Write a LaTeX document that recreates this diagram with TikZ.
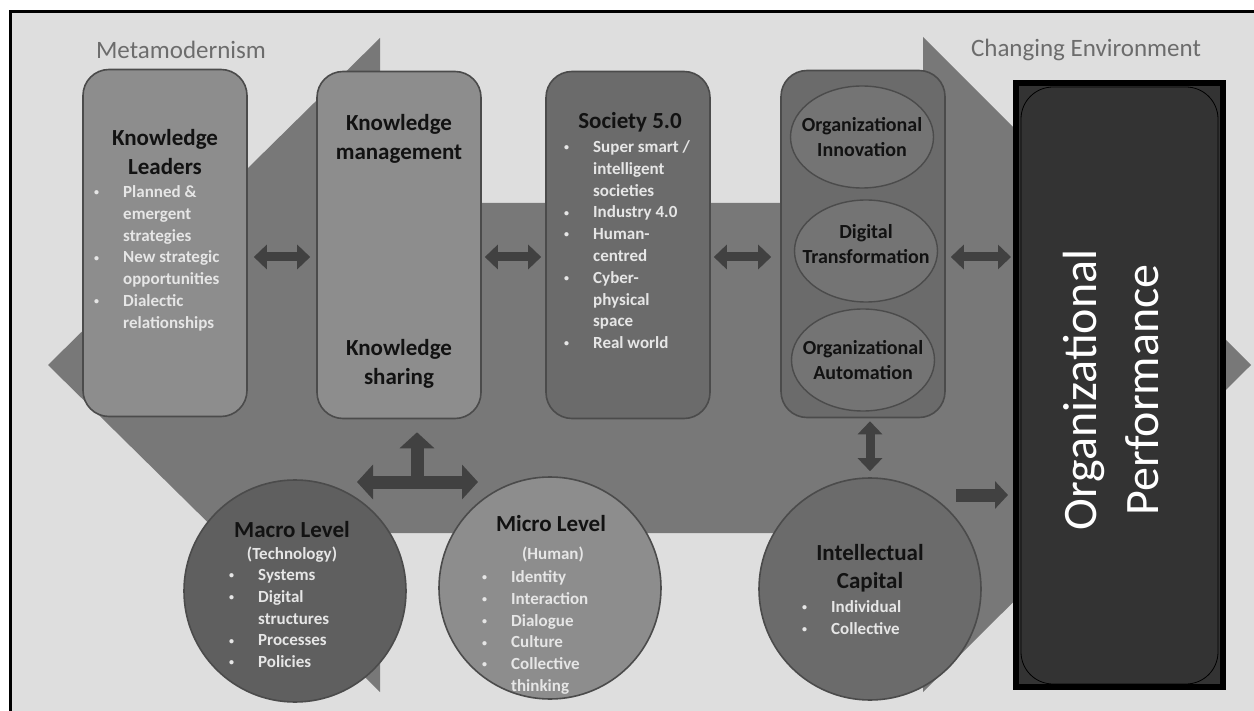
\documentclass[tikz,border=0pt]{standalone}
\usepackage{fontspec}
\setmainfont{Carlito}
\usetikzlibrary{arrows.meta,shapes.geometric}

\definecolor{paper}{HTML}{DEDEDE}
\definecolor{band}{HTML}{787878}
\definecolor{lightfill}{HTML}{8D8D8D}
\definecolor{darkfill}{HTML}{6B6B6B}
\definecolor{ovalfill}{HTML}{747474}
\definecolor{macrofill}{HTML}{5F5F5F}
\definecolor{perffill}{HTML}{333333}
\definecolor{rim}{HTML}{4B4B4B}
\definecolor{linkgray}{HTML}{414141}
\definecolor{itemgray}{HTML}{E6E6E6}
\definecolor{capgray}{HTML}{6C6C6C}

% bullet rows: \itm starts an item, \more continues it on the next line
\newcommand{\itemdot}{{\fontsize{10}{10}\selectfont\raisebox{1.8pt}{\textbullet}}}
\newcommand{\itm}[1]{\itemdot & #1\\}
\newcommand{\more}[1]{ & #1\\}
\newcommand{\itemlist}[1]{\begin{tabular}{@{}p{29pt}@{}l@{}}#1\end{tabular}}

\tikzset{
  pointer/.tip={Triangle[length=13pt,width=24pt]},
  fatpointer/.tip={Triangle[length=16pt,width=34pt]},
  panel/.style={draw=rim, line width=1.6pt, rounded corners=26pt,
    minimum width=164pt, minimum height=347pt},
  oval/.style={ellipse, draw=rim, fill=ovalfill, line width=1.4pt,
    minimum width=143pt, minimum height=102pt},
  level/.style={circle, draw=rim, line width=1.6pt, minimum size=222pt},
  heading/.style={font=\fontsize{23}{28.5}\selectfont\bfseries, text=black!93, align=center},
  ovaltext/.style={font=\fontsize{20}{25}\selectfont\bfseries, text=black!93, align=center},
  items/.style={font=\fontsize{17}{21.8}\selectfont\bfseries, text=itemgray,
    anchor=north west, inner sep=0pt},
  caption/.style={font=\fontsize{25}{30}\selectfont, text=capgray},
  link/.style={draw=linkgray, line width=9pt, pointer-pointer},
  fatlink/.style={draw=linkgray, line width=13pt, fatpointer-fatpointer},
}

\begin{document}
\begin{tikzpicture}[x=1pt,y=-1pt]
  \useasboundingbox (0,0) rectangle (1254,711);
  \fill[white] (0,0) rectangle (1254,711);
  \fill[paper] (10,12) rectangle (1254,711);
  \draw[line width=3pt] (10,711) -- (10,12) -- (1254,12); % outer frame

  % wide double arrow behind everything
  \fill[band] (48,365) -- (380,38) -- (380,203) -- (923,203) -- (923,37)
     -- (1251,365) -- (923,692) -- (923,533) -- (380,533) -- (380,692) -- cycle;

  \node[caption] (meta) at (181,50) {Metamodernism};
  \node[caption] (env) at (1086,50) {Changing Environment};

  % upper row of panels
  \node[panel, fill=lightfill] (kl) at (165,243) {};
  \node[panel, fill=lightfill] (km) at (399,245) {};
  \node[panel, fill=darkfill] (soc) at (628,245) {};
  \node[panel, fill=darkfill] (dig) at (863,244) {};

  \node[heading] (kltitle) at (165,152) {Knowledge\\Leaders};
  \node[items] (klitems) at (94,182) {\itemlist{%
    \itm{Planned \&}\more{emergent}\more{strategies}%
    \itm{New strategic}\more{opportunities}%
    \itm{Dialectic}\more{relationships}}};

  \node[heading] (kmtop) at (399,139) {Knowledge\\management};
  \node[heading] (kmbot) at (399,364) {Knowledge\\sharing};

  \node[heading] (soctitle) at (630,122) {Society 5.0};
  \node[items] (socitems) at (564,137) {\itemlist{%
    \itm{Super smart /}\more{intelligent}\more{societies}%
    \itm{Industry 4.0}\itm{Human-}\more{centred}%
    \itm{Cyber-}\more{physical}\more{space}\itm{Real world}}};

  \node[oval] (inno) at (862,137) {};
  \node[oval] (trans) at (866,251) {};
  \node[oval] (auto) at (863,360) {};
  \node[ovaltext] at (inno) {Organizational\\Innovation};
  \node[ovaltext] at (866,244) {Digital\\Transformation};
  \node[ovaltext] at (auto) {Organizational\\Automation};

  % performance block
  \node[draw=black, line width=6pt, fill=perffill, minimum width=207pt,
    minimum height=604pt] (perf) at (1119.5,385) {};
  \draw[black, line width=0.8pt, rounded corners=32pt] (1021,87) rectangle (1218,684);
  \node[rotate=90, text=white, font=\fontsize{48}{62}\selectfont, align=center]
    (perftext) at (1111,390) {Organizational\\Performance};

  % lower circles
  \node[level, fill=macrofill] (macro) at (295,591) {};
  \node[level, fill=lightfill] (micro) at (550,588) {};
  \node[level, fill=darkfill] (ic) at (870,589) {};

  \node[heading] (macrotitle) at (292,530) {Macro Level};
  \node[items, anchor=center] at (292,555) {(Technology)};
  \node[items] (macroitems) at (229,565) {\itemlist{%
    \itm{Systems}\itm{Digital}\more{structures}\itm{Processes}\itm{Policies}}};

  \node[heading] (microtitle) at (551,524) {Micro Level};
  \node[items, anchor=center] at (553,554) {(Human)};
  \node[items] (microitems) at (482,567) {\itemlist{%
    \itm{Identity}\itm{Interaction}\itm{Dialogue}\itm{Culture}%
    \itm{Collective}\more{thinking}}};

  \node[heading] (ictitle) at (870,568) {Intellectual\\Capital};
  \node[items] (icitems) at (802,597) {\itemlist{\itm{Individual}\itm{Collective}}};

  % connectors
  \coordinate (row) at (0,257);
  \draw[link, shorten <=6pt, shorten >=6pt] (kl.east |- row) -- (km.west |- row);
  \draw[link, shorten <=3pt, shorten >=4pt] (km.east |- row) -- (soc.west |- row);
  \draw[link, shorten <=3pt, shorten >=9pt] (soc.east |- row) -- (dig.west |- row);
  \draw[link, shorten <=5pt, shorten >=2pt] (dig.east |- row) -- (perf.west |- row);

  \coordinate (tl) at (357,482);
  \coordinate (tr) at (478,482);
  \coordinate (tj) at (417,482);
  \draw[fatlink] (tl) -- (tr);
  \draw[fatlink, -fatpointer, shorten >=13pt] (tj) -- (tj |- km.south);

  \draw[link, shorten <=3pt, shorten >=6pt] (ic.north |- dig.south) -- (ic.north);
  \coordinate (icout) at (956,495);
  \draw[draw=linkgray, line width=13pt, -{Triangle[length=13pt,width=27pt]},
    shorten >=5pt] (icout) -- (perf.west |- icout);
\end{tikzpicture}
\end{document}
